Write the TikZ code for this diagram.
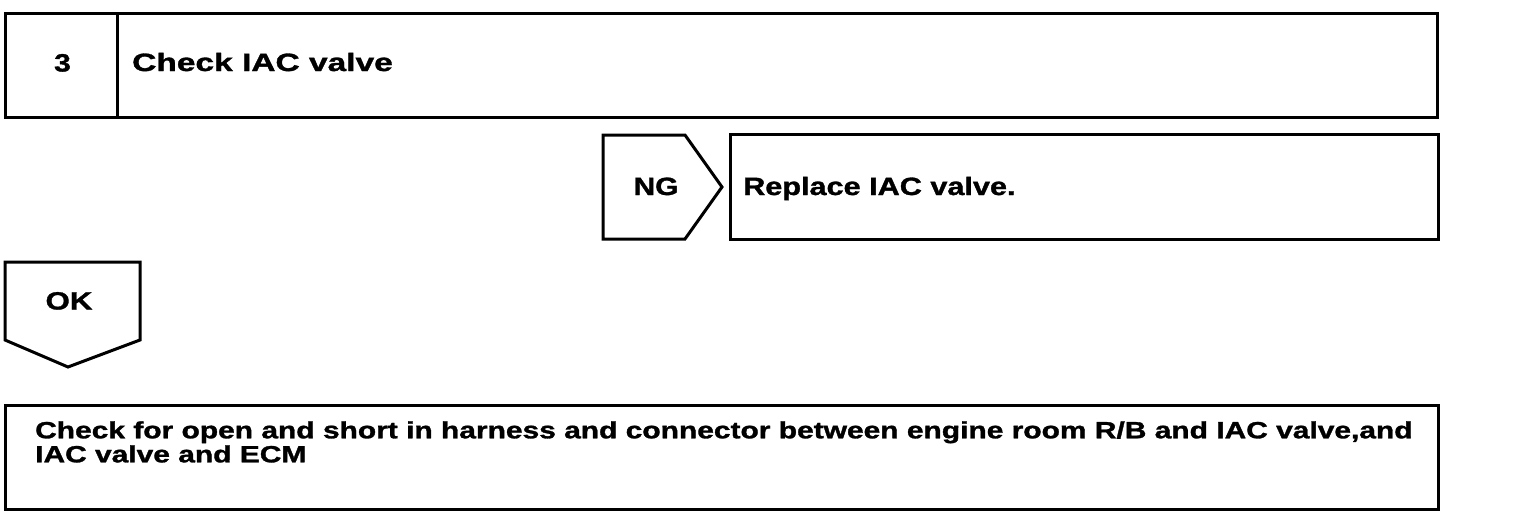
\documentclass[tikz,border=0pt]{standalone}
\usepackage{fontspec}
\usepackage{graphicx}
\setmainfont{Liberation Sans}[BoldFeatures={FakeBold=1.2}]
\begin{document}
\begin{tikzpicture}[x=1pt,y=-1pt,
  box/.style={draw=black,line width=3pt},
  lbl/.style={font=\fontsize{25}{24}\selectfont\bfseries,inner sep=0pt,anchor=base},
  lblw/.style={font=\fontsize{25}{24}\selectfont\bfseries,inner sep=0pt,anchor=base west},
  lbl2/.style={font=\fontsize{23.5}{23.4}\selectfont\bfseries,inner sep=0pt,anchor=base west}]
\useasboundingbox (0,0) rectangle (1536,530);
% top box
\draw[box] (5,13) rectangle (1437,117);
\draw[box] (117,13) -- (117,117);
\node[lbl] (num) at (62.5,71.5) {\scalebox{1.2}[1]{3}};
\node[lblw] (title) at (132,71) {\scalebox{1.34}[1]{Check IAC valve}};
% NG
\draw[box] (603,135) -- (685,135) -- (722,187) -- (685,239) -- (603,239) -- cycle;
\node[lbl] (ng) at (656,195) {\scalebox{1.2}[1]{NG}};
\draw[box] (730,134) rectangle (1438,239);
\node[lblw] (repl) at (743,195) {\scalebox{1.225}[1]{Replace IAC valve.}};
% OK
\draw[box] (5,262) -- (140,262) -- (140,340) -- (68,367) -- (5,340) -- cycle;
\node[lbl] (ok) at (69,309.5) {\scalebox{1.25}[1]{OK}};
% bottom
\draw[box] (5,405) rectangle (1438,509);
\node[lbl2] (chk) at (35,438.3) {\scalebox{1.274}[1]{\begin{tabular}[t]{@{}l@{}}Check for open and short in harness and connector between engine room R/B and IAC valve,and\\IAC valve and ECM\end{tabular}}};
\end{tikzpicture}
\end{document}
